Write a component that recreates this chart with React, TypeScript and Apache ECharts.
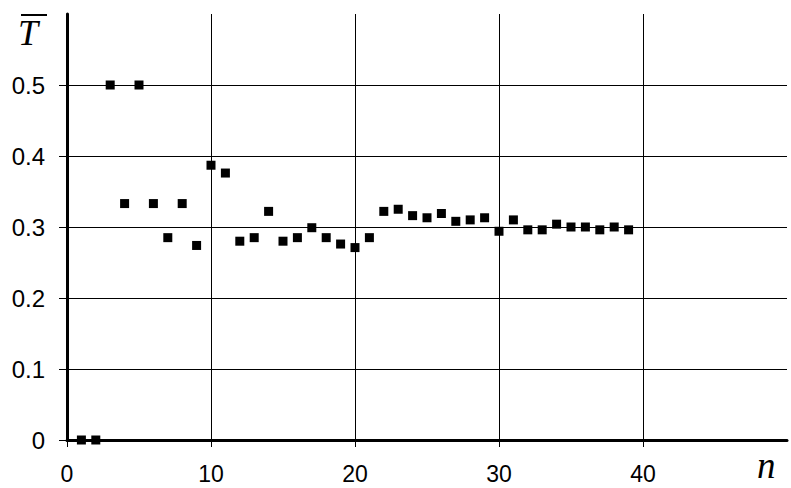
import React, { useEffect, useRef } from "react";
import * as echarts from "echarts";

const nValues = [1,2,3,4,5,6,7,8,9,10,11,12,13,14,15,16,17,18,19,20,21,22,23,24,25,26,27,28,29,30,31,32,33,34,35,36,37,38,39];
const tValues = [0,0,0.5,0.333,0.5,0.333,0.285,0.333,0.274,0.387,0.376,0.28,0.285,0.322,0.28,0.285,0.299,0.285,0.276,0.271,0.285,0.322,0.325,0.316,0.313,0.319,0.308,0.31,0.313,0.294,0.31,0.296,0.296,0.304,0.3,0.3,0.296,0.3,0.296];

export default function App() {
  const ref = useRef<HTMLDivElement>(null);
  useEffect(() => {
    if (!ref.current) return;
    const chart = echarts.init(ref.current, null, { renderer: "svg" });
    const labelFont = { color: "#000", fontSize: 24, fontFamily: "Liberation Sans, Arial, sans-serif" };
    const hiddenAxis = {
      type: "value",
      axisTick: { show: false },
      axisLabel: { show: false },
      splitLine: { show: false },
      axisLine: { show: true, lineStyle: { color: "#999", width: 2 } },
    };
    chart.setOption({
      animation: false,
      backgroundColor: "#fff",
      grid: { left: 67, right: 4, top: 14, bottom: 48, outerBoundsMode: "none", containLabel: false },
      xAxis: [
        {
          type: "value", min: 0, max: 50, interval: 10,
          axisLine: { show: true, onZero: false, lineStyle: { color: "#000", width: 3 } },
          axisTick: { show: true, length: 7, lineStyle: { color: "#000", width: 1 } },
          axisLabel: { ...labelFont, fontSize: 23, lineHeight: 20, margin: 24, showMaxLabel: false },
          splitLine: { show: true, showMinLine: false, showMaxLine: false, lineStyle: { color: "#000", width: 1 } },
          z: 3,
        },
        { ...hiddenAxis, position: "top", min: 0, max: 50 },
      ],
      yAxis: [
        {
          type: "value", min: 0, max: 0.6, interval: 0.1,
          axisLine: { show: true, onZero: false, lineStyle: { color: "#000", width: 3 } },
          axisTick: { show: true, length: 8, lineStyle: { color: "#000", width: 1 } },
          axisLabel: { ...labelFont, margin: 22, showMaxLabel: false },
          splitLine: { show: true, showMinLine: false, showMaxLine: false, lineStyle: { color: "#000", width: 1 } },
          z: 3,
        },
        { ...hiddenAxis, position: "right", min: 0, max: 0.6 },
      ],
      series: [{
        type: "scatter",
        symbol: "rect",
        symbolSize: 9,
        itemStyle: { color: "#000", opacity: 1 },
        data: nValues.map((n, i) => [n, tValues[i]]),
        z: 5,
      }],
      graphic: [
        { type: "text", left: 18, top: 15, style: { text: "T", fontSize: 36, fontStyle: "italic", fontFamily: "Liberation Serif, Times New Roman, serif", fill: "#000" } },
        { type: "line", shape: { x1: 21, y1: 15, x2: 47, y2: 15 }, style: { stroke: "#000", lineWidth: 2 } },
        { type: "text", left: 757, top: 447, style: { text: "n", fontSize: 37, lineHeight: 30, fontStyle: "italic", fontFamily: "Liberation Serif, Times New Roman, serif", fill: "#000" } },
      ],
    });
    return () => chart.dispose();
  }, []);
  return <div ref={ref} style={{ width: 791, height: 488, position: "absolute", left: 0, top: 0 }} />;
}
